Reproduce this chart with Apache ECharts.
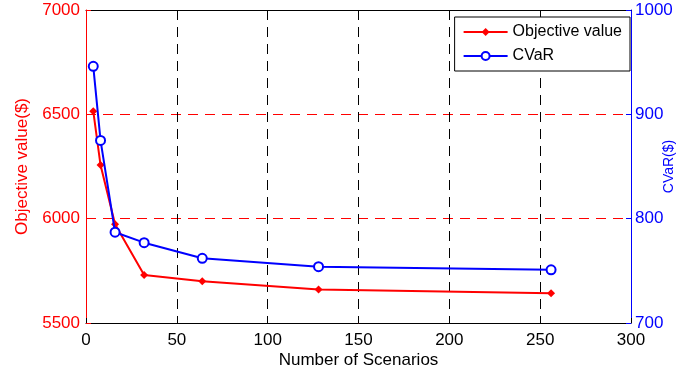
<!DOCTYPE html>
<html lang="en">
    <head>
        <meta charset="utf-8">
        <title>Objective value and CVaR</title>
        <script src="https://cdn.jsdelivr.net/npm/echarts@6/dist/echarts.min.js"></script>
        <style>
            html, body { margin: 0; padding: 0; background: #fff; }
            #chart { width: 700px; height: 381px; }
        </style>
    </head>
    <body>
        <div id="chart"></div>
        <script>
            // 场景数
            var scenarios = [4, 8, 16, 32, 64, 128, 256];
            // 目标值 ($)
            var objectiveValue = [6515, 6257, 5973, 5730, 5700, 5660, 5642];
            // CVaR ($)
            var cvar = [946, 875, 787, 777, 762, 754, 751];

            var font = 'Liberation Sans, Arial, sans-serif';

            function pairs(xs, ys) {
                return xs.map(function (x, i) { return [x, ys[i]]; });
            }
            function plain(v) { return String(v); }

            var myChart = echarts.init(document.getElementById('chart'));
            var option = {
                animation: false,
                textStyle: { fontFamily: font },
                grid: { left: 86, right: 69, top: 10, bottom: 58, containLabel: false, outerBoundsMode: 'none' },
                legend: {
                    top: 17,
                    right: 70,
                    orient: 'vertical',
                    backgroundColor: '#fff',
                    borderColor: '#000',
                    borderWidth: 1,
                    borderRadius: 0,
                    padding: [7, 8, 7, 8],
                    itemGap: 8,
                    itemWidth: 44,
                    itemHeight: 10,
                    textStyle: { fontSize: 16, color: '#000', fontFamily: font },
                    data: ['Objective value', 'CVaR']
                },
                xAxis: [{
                    type: 'value',
                    min: 0, max: 300, interval: 50,
                    name: 'Number of Scenarios',
                    nameLocation: 'middle',
                    nameGap: 29,
                    nameMoveOverlap: false,
                    nameTextStyle: { fontSize: 17, color: '#000' },
                    axisLine: { onZero: false, lineStyle: { color: '#000', width: 1 } },
                    axisTick: { inside: true, length: 5, lineStyle: { color: '#000' } },
                    axisLabel: { fontSize: 17, color: '#000', margin: 9, formatter: plain },
                    splitLine: { show: true, lineStyle: { color: '#000', type: [10, 7], width: 1 } }
                }, {
                    type: 'value',
                    position: 'top',
                    min: 0, max: 300, interval: 50,
                    axisLine: { show: true, onZero: false, lineStyle: { color: '#000', width: 1 } },
                    axisTick: { show: false },
                    axisLabel: { show: false },
                    splitLine: { show: false }
                }],
                yAxis: [{
                    type: 'value',
                    min: 5500, max: 7000, interval: 500,
                    position: 'left',
                    name: 'Objective value($)',
                    nameLocation: 'middle',
                    nameGap: 55,
                    nameMoveOverlap: false,
                    nameTextStyle: { fontSize: 17, color: '#ff0000' },
                    axisLine: { show: true, onZero: false, lineStyle: { color: '#ff0000', width: 1 } },
                    axisTick: { show: true, inside: true, length: 5, lineStyle: { color: '#ff0000' } },
                    axisLabel: { fontSize: 17, color: '#ff0000', margin: 6, formatter: plain },
                    splitLine: { show: true, lineStyle: { color: '#ff0000', type: [10, 7], width: 1 } }
                }, {
                    type: 'value',
                    min: 700, max: 1000, interval: 100,
                    position: 'right',
                    name: 'CVaR($)',
                    nameLocation: 'middle',
                    nameGap: 31,
                    nameMoveOverlap: false,
                    nameTextStyle: { fontSize: 14, color: '#0000ff' },
                    axisLine: { show: true, onZero: false, lineStyle: { color: '#0000ff', width: 1 } },
                    axisTick: { show: true, inside: true, length: 5, lineStyle: { color: '#0000ff' } },
                    axisLabel: { fontSize: 17, color: '#0000ff', margin: 4, formatter: plain },
                    splitLine: { show: false }
                }],
                series: [{
                    name: 'Objective value',
                    type: 'line',
                    yAxisIndex: 0,
                    data: pairs(scenarios, objectiveValue),
                    symbol: 'diamond',
                    symbolSize: 8,
                    color: '#ff0000',
                    lineStyle: { width: 2, color: '#ff0000' },
                    itemStyle: { color: '#ff0000' },
                    z: 3
                }, {
                    name: 'CVaR',
                    type: 'line',
                    yAxisIndex: 1,
                    data: pairs(scenarios, cvar),
                    symbol: 'circle',
                    symbolSize: 9,
                    showAllSymbol: true,
                    color: '#0000ff',
                    lineStyle: { width: 2, color: '#0000ff' },
                    itemStyle: { color: '#fff', borderColor: '#0000ff', borderWidth: 2 },
                    z: 4
                }]
            };
            myChart.setOption(option);
        </script>
    </body>
</html>
